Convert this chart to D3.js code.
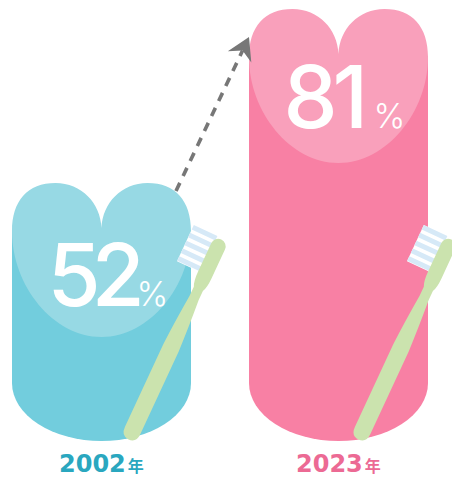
<!DOCTYPE html>
<html>
<head>
<meta charset="utf-8">
<script src="https://d3js.org/d3.v7.min.js"></script>
<style>
  html, body { margin: 0; padding: 0; background: #fff; }
  svg { display: block; }
</style>
</head>
<body>
<script>
const years = ['2002', '2023'];
const values = [52, 81];
const yearUnit = '年';
const valueUnit = '%';

const width = 452, height = 477;
const bodyColors = ['#72cddd', '#f880a4'];
const heartColors = ['#97d9e4', '#f9a0bb'];
const labelColors = ['#2aa7bf', '#ec6a94'];
const brushShift = [0, -7]; // 2nd brush sits a bit closer to its bar

const svg = d3.select('body').append('svg')
  .attr('width', width)
  .attr('height', height);

// Scales
const x = d3.scaleBand().domain(years).range([12, 428]).paddingInner(0.2447);
const y = d3.scaleLinear().domain([9, 81]).range([441, 9]);
const w = x.bandwidth();

function bodyPath(top) {
  const side = top + 47, bottom = y(9), rx = w / 2, ry = 58;
  return `M0,${side} H${w} V${bottom - ry} A${rx},${ry} 0 0 1 0,${bottom - ry} Z`;
}

function heartPath(top) {
  const c = w / 2;
  return `M${c},${top + 45}
    C${c + 1},${top + 20} ${c + 20},${top} ${c + 46},${top}
    C${c + 74},${top} ${w},${top + 18} ${w},${top + 48}
    C${w},${top + 103} ${c + 48},${top + 154} ${c},${top + 154}
    C${c - 48},${top + 154} 0,${top + 103} 0,${top + 48}
    C0,${top + 18} ${c - 74},${top} ${c - 46},${top}
    C${c - 20},${top} ${c - 1},${top + 20} ${c},${top + 45} Z`;
}

const groups = svg.selectAll('g.bar')
  .data(years)
  .enter()
  .append('g')
  .attr('class', 'bar')
  .attr('transform', d => `translate(${x(d)},0)`);

groups.append('path')
  .attr('d', (d, i) => bodyPath(y(values[i])))
  .attr('fill', (d, i) => bodyColors[i]);

groups.append('path')
  .attr('d', (d, i) => heartPath(y(values[i])))
  .attr('fill', (d, i) => heartColors[i]);

// Big numbers
groups.append('text')
  .attr('x', (d, i) => w / 2 + (i === 0 ? -54 : -55))
  .attr('y', (d, i) => y(values[i]) + (i === 0 ? 123 : 119))
  .attr('font-family', 'Inter')
  .attr('font-weight', 500)
  .attr('font-size', 86)
  .attr('letter-spacing', (d, i) => (i === 0 ? -9 : -5))
  .attr('fill', '#fff')
  .text((d, i) => values[i]);

groups.append('text')
  .attr('x', (d, i) => w / 2 + 35)
  .attr('y', (d, i) => y(values[i]) + (i === 0 ? 123 : 119))
  .attr('font-family', 'Inter')
  .attr('font-weight', 300)
  .attr('font-size', 34)
  .attr('fill', '#fff')
  .text(valueUnit);

// Year labels
const labels = groups.append('text')
  .attr('x', 47)
  .attr('y', 472)
  .attr('font-family', 'DejaVu Sans')
  .attr('font-weight', 700)
  .attr('font-size', 24)
  .attr('fill', (d, i) => labelColors[i]);
labels.append('tspan').text(d => d);
labels.append('tspan')
  .attr('font-family', 'Noto Sans CJK JP')
  .attr('font-size', 16)
  .attr('dx', 2)
  .text(yearUnit);

// Toothbrushes, drawn upright from the bottom of the handle then tilted
const brush = groups.append('g')
  .attr('transform', (d, i) => `translate(${119 + brushShift[i]},${y(9) - 7}) rotate(24.9)`);

brush.append('rect')
  .attr('x', -31).attr('y', -216)
  .attr('width', 26).attr('height', 40)
  .attr('fill', '#fff');

brush.selectAll('rect.stripe')
  .data(d3.range(5))
  .enter()
  .append('rect')
  .attr('class', 'stripe')
  .attr('x', -31)
  .attr('y', d => -216 + d * 8.6)
  .attr('width', 26)
  .attr('height', 5)
  .attr('fill', '#d6e9f7');

brush.append('path')
  .attr('d', `M-8.5,-4 Q-8.5,6 0,6 Q8.5,6 8.5,-4
    L8.5,-95 Q7.5,-120 5,-150 L5,-160 Q7.5,-165 7.5,-175 L7.5,-207
    A7.5,7.5 0 0 0 -7.5,-207 L-7.5,-175 Q-7.5,-165 -5,-160 L-5,-150
    Q-7.5,-120 -8.5,-95 Z`)
  .attr('fill', '#cbe3ae');

// Dashed arrow between the two bars
const tail = [x(years[0]) + 164, y(values[0]) + 8];
const tip = [x(years[1]), y(values[1]) + 28];
const angle = Math.atan2(tip[1] - tail[1], tip[0] - tail[0]) * 180 / Math.PI;
const length = Math.hypot(tip[0] - tail[0], tip[1] - tail[1]);

const arrow = svg.append('g')
  .attr('transform', `translate(${tail[0]},${tail[1]}) rotate(${angle})`);

arrow.append('line')
  .attr('x1', 0).attr('y1', 0)
  .attr('x2', length - 15).attr('y2', 0)
  .attr('stroke', '#777')
  .attr('stroke-width', 3.6)
  .attr('stroke-dasharray', '9 7.6');

arrow.append('path')
  .attr('d', `M${length},0 L${length - 22},-13 L${length - 15},0 L${length - 22},13 Z`)
  .attr('fill', '#777');
</script>
</body>
</html>
